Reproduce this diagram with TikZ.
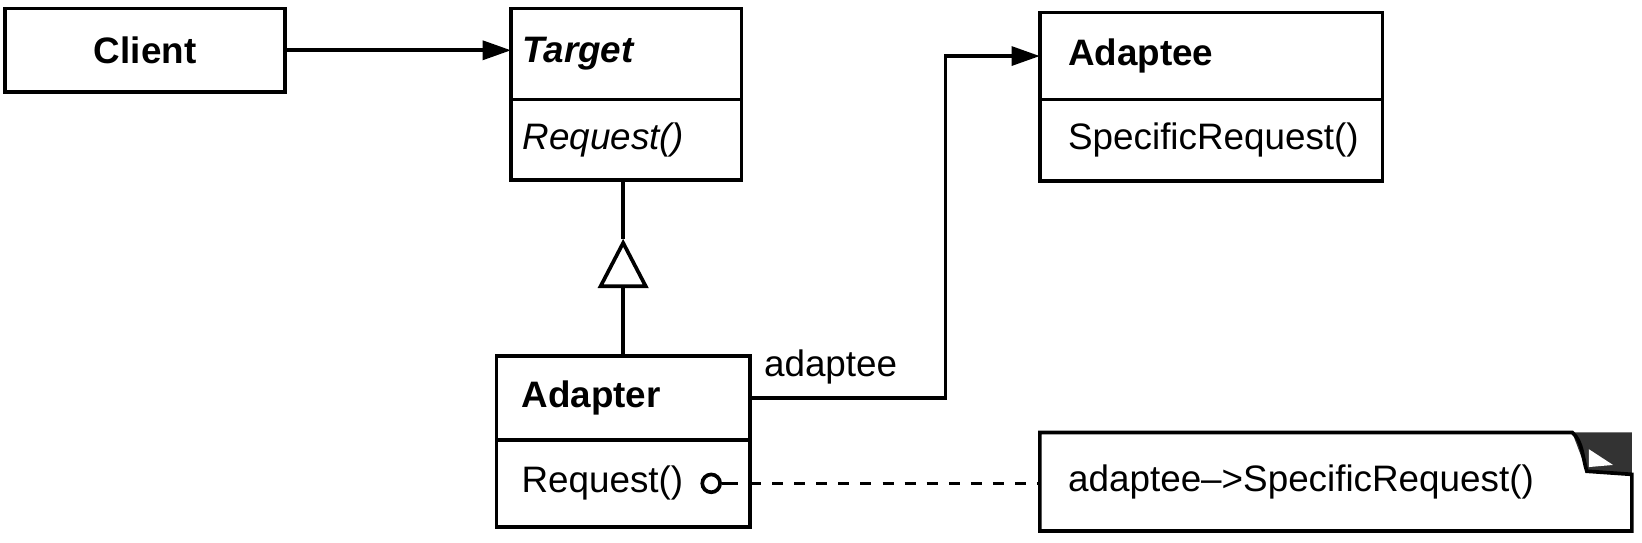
\documentclass[tikz,border=0pt]{standalone}
\usepackage{fontspec}
\setmainfont{Liberation Sans}
\usetikzlibrary{arrows.meta,positioning,calc}

\begin{document}
\begin{tikzpicture}[x=0.01cm,y=-0.01cm,line width=1pt,>={Triangle[length=0.27cm,width=0.18cm]},
	class head/.style={draw,anchor=north west,align=left,font=\bfseries,inner ysep=0pt,outer sep=0pt},
	class body/.style={draw,align=left,inner ysep=0pt,outer sep=0pt},
	note box/.style={anchor=north west,align=left,inner ysep=0pt,outer sep=0pt},
	inherit/.style={-{Triangle[open,length=0.47cm,width=0.48cm]}},
	assoc/.style={->}]
	\useasboundingbox (0,0) rectangle (1568,518);

	\node[class head,align=center,minimum width=2.67cm,minimum height=0.8cm] (client) at (5,8) {Client};

	\node[class head,text width=1.98cm,inner xsep=0.11cm,minimum height=0.87cm] (targethead) at (488,8) {\itshape Target};
	\node[class body,text width=1.98cm,inner xsep=0.11cm,minimum height=0.77cm,below=0pt of targethead] (targetbody) {\itshape Request()};

	\node[class head,text width=2.73cm,inner xsep=0.27cm,minimum height=0.83cm] (adapteehead) at (993,12) {Adaptee};
	\node[class body,text width=2.73cm,inner xsep=0.27cm,minimum height=0.78cm,below=0pt of adapteehead] (adapteebody) {SpecificRequest()};

	\node[class head,text width=1.94cm,inner xsep=0.24cm,minimum height=0.8cm] (adapterhead) at (474,340) {Adapter};
	\node[class body,text width=1.94cm,inner xsep=0.24cm,minimum height=0.83cm,below=0pt of adapterhead] (adapterbody) {Request()};

	\node[note box,text width=5.11cm,inner xsep=0.27cm,minimum height=0.94cm] (note) at (993,413) {adaptee--{>}SpecificRequest()};

	\coordinate (bend) at (903,0);
	\coordinate (apex) at ($(adapterhead.north |- targetbody.south)+(0,56)$);
	\coordinate (stub) at ($(adapterbody.east)+(-11,0)$);
	\node[circle,draw,inner sep=0pt,minimum size=0.17cm] (dot) at ($(adapterbody.east)+(-37,0)$) {};

	\path[assoc]
	(client.east) edge (client.east -| targethead.west);
	\draw[inherit] (adapterhead.north) -- (apex);
	\draw (apex) -- (adapterhead.north |- targetbody.south);
	\draw[assoc] (adapterhead.east) -- node[pos=0,above right] {adaptee} (adapterhead.east -| bend) |- (adapteehead.west);
	\draw (dot.east) -- (stub);
	\draw[dashed] (adapterbody.east) -- (adapterbody.east -| note.west);

	\coordinate (fa) at ($(note.north east)+(-57,0)$);
	\coordinate (fc) at ($(note.north east)+(0,40)$);
	\coordinate (fd) at ($(note.north east)+(-43,37)$);
	\fill[black!80] (fa) -- (note.north east) -- (fc) -- (fd) -- cycle;
	\draw (note.south west) -- (note.north west) -- (fa) .. controls ($(fa)+(10,8)$) and ($(fd)+(-4,-12)$) .. (fd) -- (fc) -- (note.south east) -- cycle;
	\fill[white] ($(note.north east)+(-41,16)$) -- ($(note.north east)+(-41,33)$) -- ($(note.north east)+(-18,31)$) -- cycle;
\end{tikzpicture}
\end{document}
